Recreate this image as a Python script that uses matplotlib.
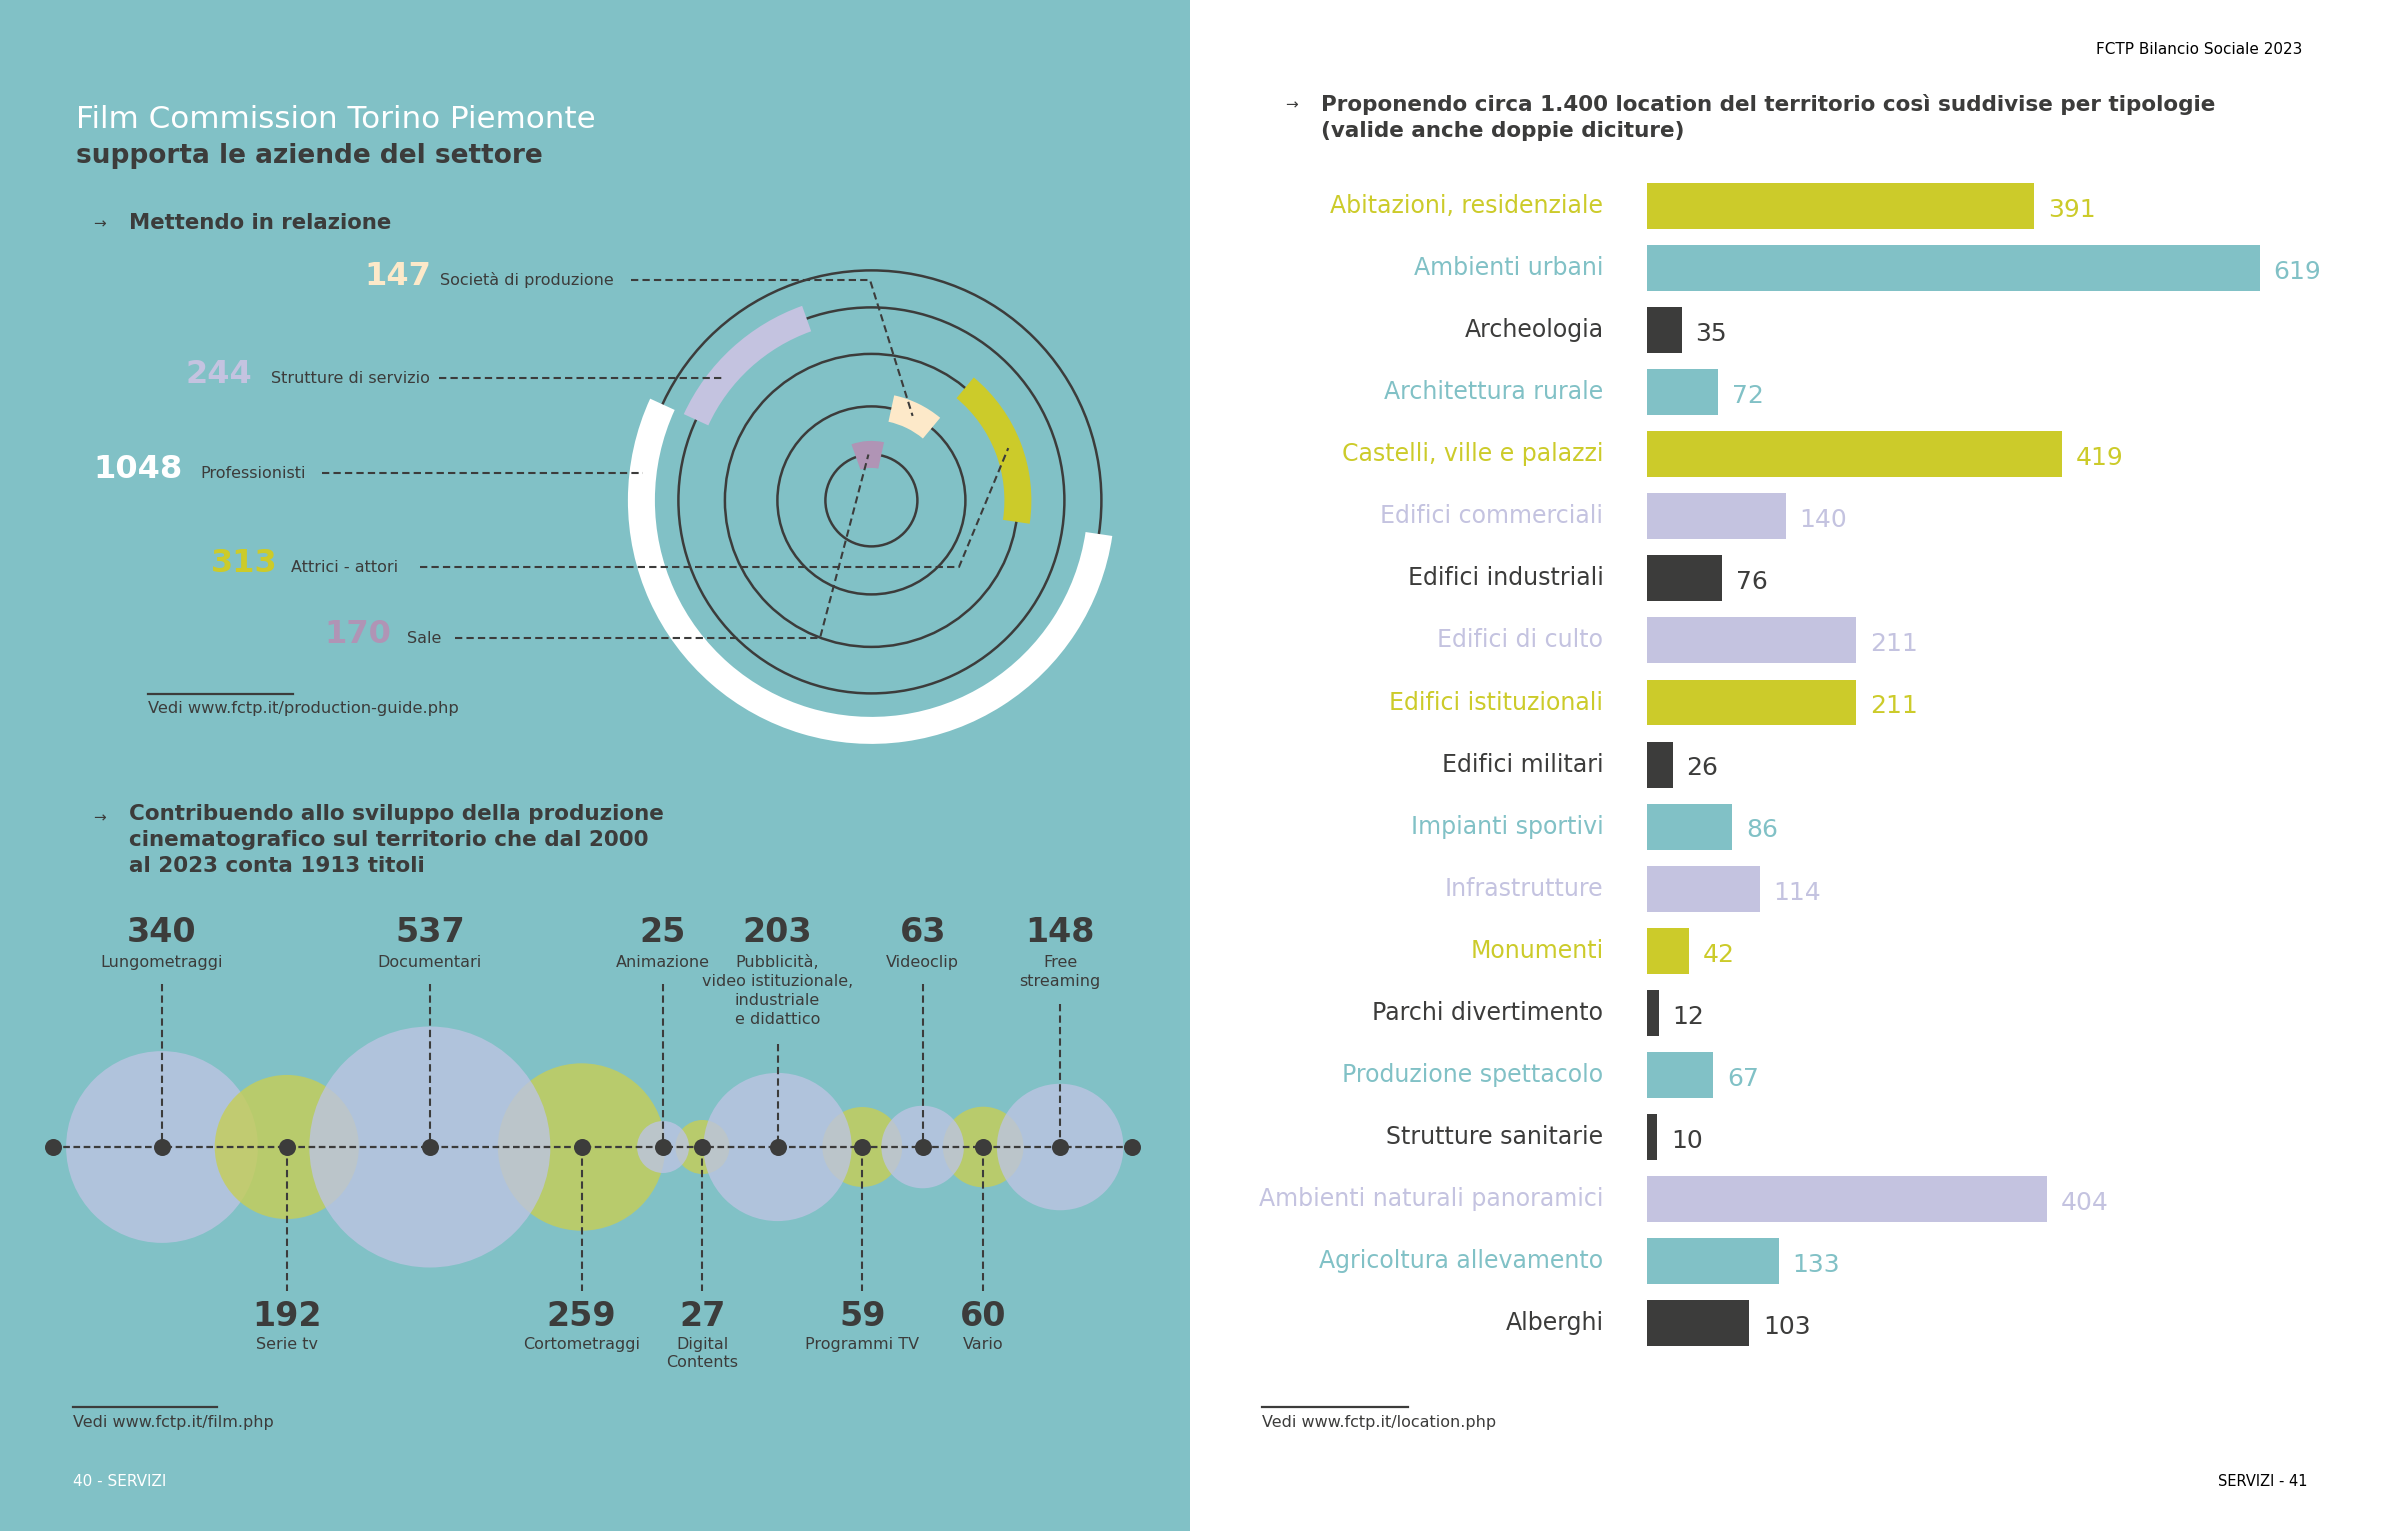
import numpy as np
import matplotlib
matplotlib.use("Agg")
import matplotlib.pyplot as plt
from matplotlib.patches import Circle, Wedge, Rectangle

plt.rcParams['font.family'] = ['DejaVu Sans']

# colori
teal = '#81c1c6'
dark = '#3c3c3b'
yellow = '#cccb2a'
lavender = '#c4c3e0'
cream = '#fde9c9'
purple = '#b094b5'
bub_blue = '#bcc4e2'
bub_green = '#c6ce56'

# anelli: "Mettendo in relazione"
ring_values = [147, 244, 1048, 313, 170]
ring_labels = ['Società di produzione', 'Strutture di servizio', 'Professionisti',
               'Attrici - attori', 'Sale']
ring_colors = [cream, lavender, 'white', yellow, purple]

# bolle: titoli 2000-2023
film_values = [340, 192, 537, 259, 25, 27, 203, 59, 63, 60, 148]
film_labels = ['Lungometraggi', 'Serie tv', 'Documentari', 'Cortometraggi', 'Animazione',
               'Digital\nContents', 'Pubblicità,\nvideo istituzionale,\nindustriale\ne didattico',
               'Programmi TV', 'Videoclip', 'Vario', 'Free\nstreaming']

# barre: location per tipologia
loc_labels = ['Abitazioni, residenziale', 'Ambienti urbani', 'Archeologia', 'Architettura rurale',
              'Castelli, ville e palazzi', 'Edifici commerciali', 'Edifici industriali',
              'Edifici di culto', 'Edifici istituzionali', 'Edifici militari', 'Impianti sportivi',
              'Infrastrutture', 'Monumenti', 'Parchi divertimento', 'Produzione spettacolo',
              'Strutture sanitarie', 'Ambienti naturali panoramici', 'Agricoltura allevamento',
              'Alberghi']
loc_values = [391, 619, 35, 72, 419, 140, 76, 211, 211, 26, 86, 114, 42, 12, 67, 10, 404, 133, 103]
loc_colors = [yellow, teal, dark, teal, yellow, lavender, dark, lavender, yellow, dark, teal,
              lavender, yellow, dark, teal, dark, lavender, teal, dark]

W, H = 2381, 1531
fig = plt.figure(figsize=(W / 100, H / 100), dpi=100, facecolor='white')
ax = fig.add_axes([0, 0, 1, 1])
ax.set_xlim(0, W)
ax.set_ylim(H, 0)
ax.axis('off')

ax.add_patch(Rectangle((0, 0), 1190, H, fc=teal, ec='none', zorder=0))

# --- titolo pagina sinistra
ax.text(76, 119, 'Film Commission Torino Piemonte', color='white', fontsize=22.3, va='center')
ax.text(76, 156, 'supporta le aziende del settore', color=dark, fontsize=19,
        fontweight='bold', va='center')
ax.text(99, 224, '→', color=dark, fontsize=11, ha='center', va='center')
ax.text(129, 223, 'Mettendo in relazione', color=dark, fontsize=15.3, fontweight='bold', va='center')

# --- anelli
cx, cy = 871.4, 500.4
ring_r = [94, 193, 230, 146.5, 46]
band = 27
for r in sorted(ring_r):
    ax.add_patch(Circle((cx, cy), r, fill=False, ec=dark, lw=1.8, zorder=2))

order = [3, 0, 4, 1, 2]
total = sum(ring_values)
a = -8.4
mids = {}
for i in order:
    ext = 360.0 * ring_values[i] / total
    # asse y invertito: angoli negati
    ax.add_patch(Wedge((cx, cy), ring_r[i] + band / 2, -(a + ext), -a, width=band,
                       fc=ring_colors[i], ec='none', zorder=3))
    mids[i] = np.radians(a + ext / 2)
    a += ext

row_y = [280, 378, 473, 567, 638]
num_x = [364, 186, 93, 211, 324]
lab_x = [440, 271, 200, 291, 407]
line_x = [631, 439, 322, 420, 455]
knee_x = [870, None, None, 959, 820]
for i in range(len(ring_values)):
    y = row_y[i]
    col = ring_colors[i]
    ax.text(num_x[i], y + 5, str(ring_values[i]), color=col, fontsize=23,
            fontweight='bold', va='baseline')
    ax.text(lab_x[i], y + 5, ring_labels[i], color=dark, fontsize=11.5, va='baseline')
    r = ring_r[i]
    if knee_x[i] is not None:
        xs = [line_x[i], knee_x[i], cx + r * np.cos(mids[i])]
        ys = [y, y, cy - r * np.sin(mids[i])]
    else:
        xe = cx - np.sqrt(r ** 2 - (cy - y) ** 2)
        xs = [line_x[i], xe]
        ys = [y, y]
    ax.plot(xs, ys, color=dark, lw=1.5, ls=(0, (3.5, 2)), zorder=5)

ax.plot([148, 293], [694, 694], color=dark, lw=1.6)
ax.text(148, 709, 'Vedi www.fctp.it/production-guide.php', color=dark, fontsize=11.7, va='center')

# --- bolle
ax.text(99, 818, '→', color=dark, fontsize=11, ha='center', va='center')
ax.text(129, 804, 'Contribuendo allo sviluppo della produzione\n'
        'cinematografico sul territorio che dal 2000\nal 2023 conta 1913 titoli',
        color=dark, fontsize=15.5, fontweight='bold', va='top', linespacing=1.39)

line_y = 1147
k_r = 5.2
radii = k_r * np.sqrt(np.array(film_values, dtype=float))
centers = 162 + np.concatenate([[0], np.cumsum(0.743 * (radii[:-1] + radii[1:]))])
for j, (x, r) in enumerate(zip(centers, radii)):
    if j % 2 == 0:
        fc, z = bub_blue, (1 if j == 0 else 3)
    else:
        fc, z = bub_green, 2
    ax.add_patch(Circle((x, line_y), r, fc=fc, ec='none', alpha=0.8, zorder=z))

x_start = centers[0] - 109
x_end = centers[-1] + 72
ax.plot([x_start, x_end], [line_y, line_y], color=dark, lw=1.6, ls=(0, (3, 1.6)), zorder=5)
ax.scatter(np.r_[x_start, centers, x_end], np.full(len(centers) + 2, line_y), s=150,
           color=dark, zorder=6, linewidths=0)

for j, (x, v, lab) in enumerate(zip(centers, film_values, film_labels)):
    n = lab.count('\n') + 1
    if j % 2 == 0:
        ax.text(x, 933, str(v), color=dark, fontsize=24, fontweight='bold', ha='center', va='center')
        ax.text(x, 955, lab, color=dark, fontsize=11.5, ha='center', va='top', linespacing=1.32)
        y0 = 965 + 20 * (n - 1) + 19
        ax.plot([x, x], [y0, line_y], color=dark, lw=1.5, ls=(0, (3.5, 2)), zorder=5)
    else:
        ax.text(x, 1317, str(v), color=dark, fontsize=24, fontweight='bold', ha='center', va='center')
        ax.text(x, 1337, lab, color=dark, fontsize=11.5, ha='center', va='top', linespacing=1.25)
        ax.plot([x, x], [line_y, 1291], color=dark, lw=1.5, ls=(0, (3.5, 2)), zorder=5)

ax.plot([73, 217], [1407, 1407], color=dark, lw=1.6)
ax.text(73, 1422, 'Vedi www.fctp.it/film.php', color=dark, fontsize=11.5, va='center')
ax.text(73, 1482, '40 - SERVIZI', color='white', fontsize=11, va='center')

# --- pagina destra
ax.text(2302, 49, 'FCTP Bilancio Sociale 2023', color='black', fontsize=11, ha='right', va='center')
ax.text(1292, 105, '→', color=dark, fontsize=11, ha='center', va='center')
ax.text(1321, 94, 'Proponendo circa 1.400 location del territorio così suddivise per tipologie\n'
        '(valide anche doppie diciture)', color=dark, fontsize=15.5, fontweight='bold',
        va='top', linespacing=1.39)

ax.plot([1262, 1408], [1407, 1407], color=dark, lw=1.6)
ax.text(1262, 1422, 'Vedi www.fctp.it/location.php', color=dark, fontsize=11.5, va='center')
ax.text(2308, 1482, 'SERVIZI - 41', color='black', fontsize=10.5, ha='right', va='center')

# barre
top, bot = 174.75, 1354.45
bx = fig.add_axes([1647 / W, 1 - bot / H, 703 / W, (bot - top) / H])
bx.set_xlim(0, 703 / 0.99)
bx.set_ylim(len(loc_values) - 0.5, -0.5)
bx.axis('off')
yy = np.arange(len(loc_values))
bx.barh(yy, loc_values, height=0.74, color=loc_colors)
for i, (lab, v, c) in enumerate(zip(loc_labels, loc_values, loc_colors)):
    bx.text(-44, i, lab, ha='right', va='center', color=c, fontsize=17, clip_on=False)
    bx.text(v + 14, i + 0.06, str(v), ha='left', va='center', color=c, fontsize=18, clip_on=False)

fig.savefig('out.png', dpi=100, facecolor='white')
